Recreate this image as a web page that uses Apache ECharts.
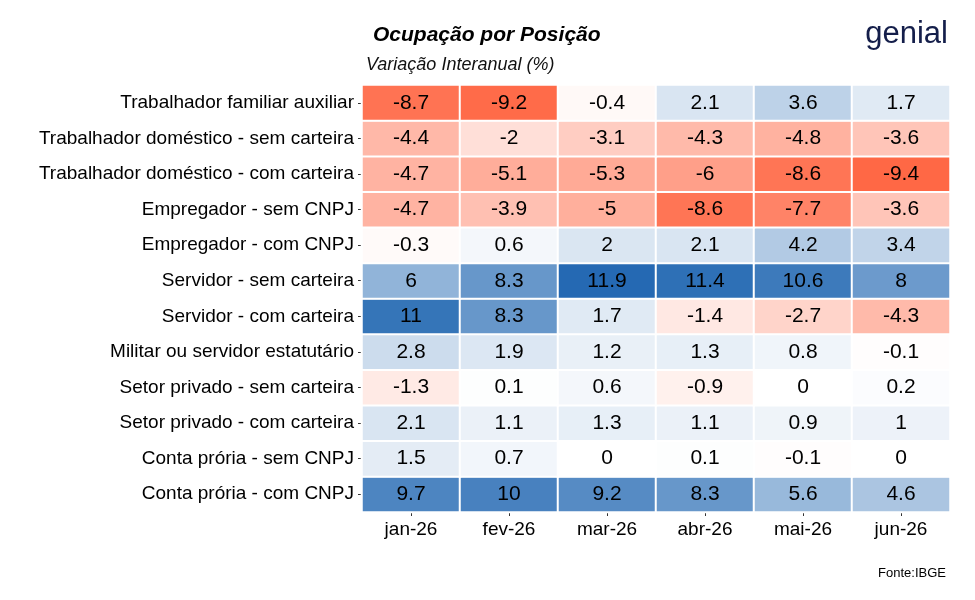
<!DOCTYPE html>
<html><head><meta charset="utf-8">
<script src="https://cdn.jsdelivr.net/npm/echarts@6/dist/echarts.min.js"></script>
</head>
<body style="margin:0">
<div id="container" style="width:975px;height:600px"></div>
<script>
var months = ['jan-26','fev-26','mar-26','abr-26','mai-26','jun-26'];
// de baixo para cima
var posicoes = [
  'Conta prória - com CNPJ',
  'Conta prória - sem CNPJ',
  'Setor privado - com carteira',
  'Setor privado - sem carteira',
  'Militar ou servidor estatutário',
  'Servidor - com carteira',
  'Servidor - sem carteira',
  'Empregador - com CNPJ',
  'Empregador - sem CNPJ',
  'Trabalhador doméstico - com carteira',
  'Trabalhador doméstico - sem carteira',
  'Trabalhador familiar auxiliar'
];
var valores = [
  [9.7, 10, 9.2, 8.3, 5.6, 4.6],
  [1.5, 0.7, 0, 0.1, -0.1, 0],
  [2.1, 1.1, 1.3, 1.1, 0.9, 1],
  [-1.3, 0.1, 0.6, -0.9, 0, 0.2],
  [2.8, 1.9, 1.2, 1.3, 0.8, -0.1],
  [11, 8.3, 1.7, -1.4, -2.7, -4.3],
  [6, 8.3, 11.9, 11.4, 10.6, 8],
  [-0.3, 0.6, 2, 2.1, 4.2, 3.4],
  [-4.7, -3.9, -5, -8.6, -7.7, -3.6],
  [-4.7, -5.1, -5.3, -6, -8.6, -9.4],
  [-4.4, -2, -3.1, -4.3, -4.8, -3.6],
  [-8.7, -9.2, -0.4, 2.1, 3.6, 1.7]
];

var data = [];
for (var r = 0; r < valores.length; r++) {
  for (var c = 0; c < months.length; c++) {
    data.push([c, r, valores[r][c]]);
  }
}

var myChart = echarts.init(document.getElementById('container'));
var option = {
  backgroundColor: '#fff',
  textStyle: {fontFamily: 'Liberation Sans'},
  title: [
    {text: 'Ocupação por Posição', left: 368, top: 20,
     textStyle: {fontSize: 21, fontStyle: 'italic', fontWeight: 'bold', color: '#000'}},
    {text: 'Variação Interanual (%)', left: 361, top: 51,
     textStyle: {fontSize: 18, fontStyle: 'italic', fontWeight: 'normal', color: '#111'}},
    {text: 'genial', right: 22, top: 14,
     textStyle: {fontSize: 31, fontWeight: 'normal', color: '#141e4a'}},
    {text: 'Fonte:IBGE', right: 24, top: 562,
     textStyle: {fontSize: 13, fontWeight: 'normal', color: '#000'}}
  ],
  grid: {left: 362, right: 25, top: 85, bottom: 88, show: true, borderColor: '#333', borderWidth: 1},
  xAxis: {
    type: 'category', data: months,
    axisLine: {show: false},
    axisTick: {show: true, alignWithLabel: true, length: 4, lineStyle: {color: '#333'}},
    axisLabel: {fontSize: 19, color: '#000', margin: 8},
    splitLine: {show: false}
  },
  yAxis: {
    type: 'category', data: posicoes,
    axisLine: {show: false},
    axisTick: {show: true, alignWithLabel: true, length: 4, lineStyle: {color: '#333'}},
    axisLabel: {fontSize: 19, color: '#000', margin: 8},
    splitLine: {show: false}
  },
  visualMap: {
    show: false, type: 'continuous', min: -12, max: 12, dimension: 2,
    inRange: {color: ['#ff3e12', '#ffffff', '#2368b2']}
  },
  series: [{
    type: 'heatmap', data: data,
    itemStyle: {borderColor: '#fff', borderWidth: 2},
    label: {show: true, fontSize: 21, color: '#000'}
  }]
};
myChart.setOption(option);
</script>
</body></html>
